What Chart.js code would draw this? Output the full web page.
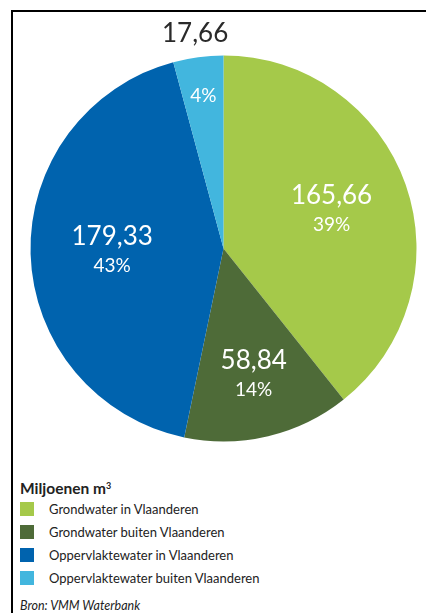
<!DOCTYPE html>
<html>
<head>
<meta charset="utf-8">
<script src="https://cdn.jsdelivr.net/npm/chart.js@4"></script>
<style>
  html, body { margin: 0; padding: 0; background: #ffffff; }
  body { width: 426px; height: 613px; position: relative; overflow: hidden; font-family: Lato, "Open Sans", sans-serif; }
  .frame { position: absolute; left: 11px; top: 10px; right: 0; bottom: 0; border-left: 2px solid #000; border-top: 2px solid #000; }
  .chart-box { position: absolute; left: 0; top: 0; width: 426px; height: 470px; }
  .legend { position: absolute; left: 20px; top: 474px; color: #222; }
  .legend-title { font-weight: 700; font-size: 15.5px; height: 23px; line-height: 23px; }
  .legend-title sup { font-size: 9px; vertical-align: 5px; }
  .legend-row { display: flex; align-items: center; height: 23px; font-size: 13px; }
  .legend-row span.box { width: 14px; height: 14px; margin-right: 15px; }
  .source { position: absolute; left: 20px; top: 598px; font-size: 12.5px; font-style: italic; color: #222; }
</style>
</head>
<body>
<div class="frame"></div>
<div class="chart-box"><canvas id="pieChart"></canvas></div>
<div class="legend" id="legend"></div>
<div class="source">Bron: VMM Waterbank</div>

<script>
const categories = [
  "Grondwater in Vlaanderen",
  "Grondwater buiten Vlaanderen",
  "Oppervlaktewater in Vlaanderen",
  "Oppervlaktewater buiten Vlaanderen"
];
const volumes = [165.66, 58.84, 179.33, 17.66];
const percentLabels = ["39%", "14%", "43%", "4%"];
const sliceColors = ["#a5c94a", "#4e6b38", "#0063ae", "#42b6de"];

// where each label sits along the slice's middle angle (fraction of radius)
const valueLabelRadius = [0.593, 0.676, 0.577, 1.121];
const percentLabelRadius = [0.593, 0.676, 0.577, 0.797];
const valueOutside = [false, false, false, true];

function formatValue(value) {
  return value.toFixed(2).replace(".", ",");
}

const sliceLabels = {
  id: "sliceLabels",
  afterDatasetsDraw(chart) {
    const ctx = chart.ctx;
    const arcs = chart.getDatasetMeta(0).data;

    ctx.save();
    ctx.textAlign = "center";
    ctx.textBaseline = "middle";

    arcs.forEach((arc, i) => {
      const p = arc.getProps(["x", "y", "startAngle", "endAngle", "outerRadius"], true);
      const mid = (p.startAngle + p.endAngle) / 2;

      if (valueOutside[i]) {
        const d = p.outerRadius * valueLabelRadius[i];
        ctx.fillStyle = "#2a2a2a";
        ctx.font = "26px Lato";
        ctx.fillText(formatValue(volumes[i]), p.x + Math.cos(mid) * d, p.y + Math.sin(mid) * d);

        const d2 = p.outerRadius * percentLabelRadius[i];
        ctx.fillStyle = "#ffffff";
        ctx.font = "19px Lato";
        ctx.fillText(percentLabels[i], p.x + Math.cos(mid) * d2, p.y + Math.sin(mid) * d2);
        return;
      }

      const d = p.outerRadius * valueLabelRadius[i];
      const cx = p.x + Math.cos(mid) * d;
      const cy = p.y + Math.sin(mid) * d;

      ctx.fillStyle = "#ffffff";
      ctx.font = "26px Lato";
      ctx.fillText(formatValue(volumes[i]), cx, cy - 15);
      ctx.font = "19px Lato";
      ctx.fillText(percentLabels[i], cx, cy + 14.5);
    });

    ctx.restore();
  }
};

function renderLegend() {
  const legend = document.querySelector("#legend");
  legend.innerHTML = `<div class="legend-title">Miljoenen m<sup>3</sup></div>` +
    categories.map((name, i) => `
      <div class="legend-row">
        <span class="box" style="background:${sliceColors[i]}"></span>
        <span>${name}</span>
      </div>
    `).join("");
}

new Chart(document.querySelector("#pieChart"), {
  type: "pie",
  data: {
    labels: categories,
    datasets: [
      {
        data: volumes,
        backgroundColor: sliceColors,
        borderWidth: 0
      }
    ]
  },
  options: {
    responsive: true,
    maintainAspectRatio: false,
    animation: false,
    layout: {
      padding: { left: 30.5, right: 9.5, top: 54.5, bottom: 27.5 }
    },
    plugins: {
      legend: { display: false },
      tooltip: { enabled: false }
    }
  },
  plugins: [sliceLabels]
});

renderLegend();
</script>
</body>
</html>
